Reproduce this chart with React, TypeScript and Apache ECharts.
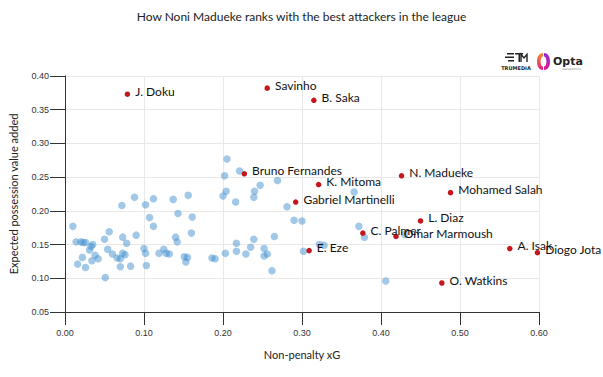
import React, { useEffect, useRef } from "react";
import * as echarts from "echarts";

const TITLE = "How Noni Madueke ranks with the best attackers in the league";
const X_NAME = "Non-penalty xG";
const Y_NAME = "Expected possession value added";

const highlightNames = [
  "J. Doku", "Savinho", "B. Saka", "Bruno Fernandes", "K. Mitoma", "Gabriel Martinelli",
  "E. Eze", "N. Madueke", "Mohamed Salah", "L. Diaz", "C. Palmer", "Omar Marmoush",
  "A. Isak", "O. Watkins", "Diogo Jota",
];
const highlightX = [0.079, 0.256, 0.315, 0.227, 0.321, 0.292, 0.309, 0.426, 0.488, 0.450, 0.377, 0.419, 0.563, 0.477, 0.598];
const highlightY = [0.373, 0.382, 0.364, 0.255, 0.239, 0.213, 0.141, 0.252, 0.227, 0.185, 0.167, 0.162, 0.144, 0.093, 0.138];

const otherX = [
  0.010, 0.014, 0.020, 0.023, 0.026, 0.035, 0.033, 0.031, 0.022, 0.016, 0.026, 0.034, 0.038, 0.042,
  0.050, 0.056, 0.054, 0.060, 0.066, 0.070, 0.073, 0.076, 0.070, 0.083, 0.051, 0.073, 0.078, 0.090,
  0.072, 0.088, 0.102, 0.112, 0.107, 0.112, 0.100, 0.102, 0.103,
  0.137, 0.156, 0.143, 0.161, 0.160, 0.140, 0.142, 0.125, 0.119, 0.128, 0.132, 0.151, 0.155, 0.153,
  0.186, 0.190, 0.203, 0.217, 0.217, 0.205, 0.202, 0.204, 0.200, 0.216, 0.221,
  0.247, 0.240, 0.239, 0.269, 0.281, 0.290, 0.300, 0.239, 0.265, 0.235, 0.229, 0.252, 0.256, 0.252,
  0.262, 0.302, 0.322, 0.328,
  0.366, 0.372, 0.379, 0.406, 0.430,
];
const otherY = [
  0.177, 0.154, 0.154, 0.153, 0.153, 0.150, 0.147, 0.142, 0.131, 0.121, 0.116, 0.126, 0.134, 0.129,
  0.158, 0.169, 0.143, 0.136, 0.130, 0.129, 0.137, 0.135, 0.117, 0.118, 0.101, 0.161, 0.152, 0.164,
  0.208, 0.220, 0.209, 0.218, 0.190, 0.177, 0.144, 0.137, 0.119,
  0.217, 0.223, 0.196, 0.191, 0.167, 0.161, 0.154, 0.143, 0.137, 0.137, 0.136, 0.132, 0.131, 0.124,
  0.130, 0.129, 0.137, 0.152, 0.140, 0.277, 0.252, 0.229, 0.222, 0.213, 0.259,
  0.238, 0.229, 0.220, 0.245, 0.206, 0.186, 0.185, 0.158, 0.162, 0.146, 0.136, 0.144, 0.136, 0.133,
  0.111, 0.140, 0.150, 0.149,
  0.228, 0.177, 0.161, 0.096, 0.165,
];

const X_TICKS = { min: 0, max: 0.6, interval: 0.1 };
const Y_TICKS = { min: 0.05, max: 0.4, interval: 0.05 };

const optaPath =
  "M6 0 C2.5 0 0 3 0 8.5 C0 14 2.5 17 6 17 L6 13.5 C4.5 13.5 3.6 11.5 3.6 8.5 C3.6 5.5 4.5 3.5 6 3.5 Z";
const optaPathR =
  "M0 0 C3.5 0 6 3 6 8.5 C6 14 3.5 17 0 17 L0 13.5 C1.5 13.5 2.4 11.5 2.4 8.5 C2.4 5.5 1.5 3.5 0 3.5 Z";
echarts.graphic.registerShape("optaL", echarts.graphic.extendPath(optaPath, {}) as any);
echarts.graphic.registerShape("optaR", echarts.graphic.extendPath(optaPathR, {}) as any);

export default function App() {
  const ref = useRef<HTMLDivElement>(null);
  useEffect(() => {
    document.body.style.margin = "0";
    if (!ref.current) return;
    const chart = echarts.init(ref.current, undefined, { renderer: "svg" });
    const others = otherX.map((x, i) => [x, otherY[i]]);
    const highs = highlightX.map((x, i) => ({ name: highlightNames[i], value: [x, highlightY[i]] }));
    chart.setOption({
      animation: false,
      backgroundColor: "#ffffff",
      title: {
        text: TITLE,
        left: "center",
        top: 5,
        textStyle: { fontFamily: "Lato", fontSize: 12, fontWeight: "normal", color: "#222" },
      },
      grid: { left: 62, right: 64, top: 76, bottom: 65, containLabel: false },
      xAxis: {
        type: "value",
        ...X_TICKS,
        name: X_NAME,
        nameLocation: "middle",
        nameGap: 37,
        nameTextStyle: { fontFamily: "Lato", fontSize: 11, color: "#222" },
        axisLine: { show: true, onZero: false, lineStyle: { color: "#333", width: 1 } },
        axisTick: { show: true, length: 13, lineStyle: { color: "#333" } },
        axisLabel: {
          fontFamily: "Liberation Sans",
          fontSize: 9,
          color: "#333",
          margin: 16,
          formatter: (v: number) => v.toFixed(2),
        },
        splitLine: { show: true, lineStyle: { color: "#e8e8e8", width: 1 } },
      },
      yAxis: {
        type: "value",
        ...Y_TICKS,
        name: Y_NAME,
        nameLocation: "middle",
        nameGap: 46,
        nameTextStyle: { fontFamily: "Lato", fontSize: 11, color: "#222" },
        axisLine: { show: true, onZero: false, lineStyle: { color: "#333", width: 1 } },
        axisTick: { show: true, length: 15, lineStyle: { color: "#333" } },
        axisLabel: {
          fontFamily: "Liberation Sans",
          fontSize: 9,
          color: "#333",
          margin: 16,
          formatter: (v: number) => v.toFixed(2),
        },
        splitLine: { show: true, lineStyle: { color: "#e8e8e8", width: 1 } },
      },
      series: [
        {
          type: "scatter",
          data: others,
          symbolSize: 7.5,
          itemStyle: { color: "#3d8bcd", opacity: 0.48 },
          z: 2,
        },
        {
          type: "scatter",
          data: highs,
          symbolSize: 5.5,
          itemStyle: { color: "#c4161c", opacity: 1 },
          label: {
            show: true,
            position: "right",
            distance: 5,
            offset: [0, -3],
            formatter: "{b}",
            fontFamily: "Lato",
            fontSize: 12,
            color: "#111",
          },
          z: 3,
        },
      ],
      graphic: [
        { type: "rect", shape: { x: 507, y: 53, width: 7, height: 1.5 }, style: { fill: "#222" } },
        { type: "rect", shape: { x: 505, y: 56.5, width: 9, height: 1.5 }, style: { fill: "#222" } },
        { type: "rect", shape: { x: 508, y: 60, width: 6, height: 1.5 }, style: { fill: "#222" } },
        { type: "rect", shape: { x: 515, y: 53, width: 8, height: 1.5 }, style: { fill: "#222" } },
        { type: "rect", shape: { x: 518.5, y: 53, width: 1.5, height: 9 }, style: { fill: "#222" } },
        { type: "polyline", shape: { points: [[521, 62], [521, 54.5], [524, 58], [527, 54.5], [527, 62]] }, style: { stroke: "#222", lineWidth: 1.4, fill: "none" } },
        {
          type: "text",
          x: 516,
          y: 68,
          style: { text: "TRUMEDIA", font: "bold 5px 'DejaVu Sans'", fill: "#222", align: "center", verticalAlign: "middle" },
        },
        {
          type: "optaL",
          x: 537,
          y: 53,
          style: {
            fill: new echarts.graphic.LinearGradient(0, 0, 0, 1, [
              { offset: 0, color: "#f7931e" },
              { offset: 1, color: "#e0198c" },
            ]),
          },
        },
        {
          type: "optaR",
          x: 544,
          y: 53,
          style: {
            fill: new echarts.graphic.LinearGradient(0, 0, 0, 1, [
              { offset: 0, color: "#8a2be2" },
              { offset: 1, color: "#e0198c" },
            ]),
          },
        },
        {
          type: "text",
          x: 553,
          y: 61,
          style: { text: "Opta", font: "bold 11px 'DejaVu Sans'", fill: "#222", verticalAlign: "middle" },
        },
        {
          type: "text",
          x: 562,
          y: 68.5,
          style: { text: "statsperform", font: "3px 'DejaVu Sans'", fill: "#888", verticalAlign: "middle" },
        },
      ],
    });
    return () => chart.dispose();
  }, []);
  return <div ref={ref} style={{ width: 603, height: 377 }} />;
}
